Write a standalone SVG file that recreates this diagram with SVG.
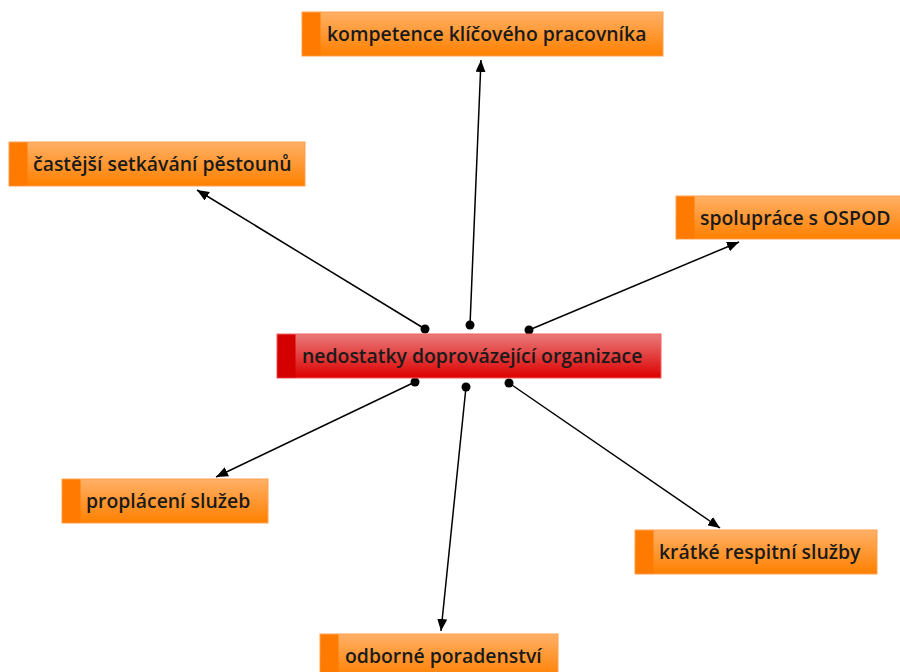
<svg xmlns="http://www.w3.org/2000/svg" width="900" height="672" viewBox="0 0 900 672">
<defs>
<linearGradient id="og" x1="0" y1="0" x2="0" y2="1">
<stop offset="0" stop-color="#ffb066"/>
<stop offset="1" stop-color="#ff8000"/>
</linearGradient>
<linearGradient id="rg" x1="0" y1="0" x2="0" y2="1">
<stop offset="0" stop-color="#ea7a7a"/>
<stop offset="1" stop-color="#dc0000"/>
</linearGradient>
<marker id="arr" viewBox="0 0 12 10" refX="12" refY="5" markerWidth="12" markerHeight="10" markerUnits="userSpaceOnUse" orient="auto">
<path d="M0,0 L12,5 L0,10 z" fill="#000"/>
</marker>
<marker id="dot" viewBox="0 0 10 10" refX="5" refY="5" markerWidth="10" markerHeight="10" markerUnits="userSpaceOnUse">
<circle cx="5" cy="5" r="4.5" fill="#000"/>
</marker>
</defs>
<style>
.ob{fill:url(#og);stroke:#ffa050;stroke-width:1}
.os{fill:#ff7a00}
.rb{fill:url(#rg);stroke:#f06060;stroke-width:1}
.rs{fill:#d40000}
.t{font-family:"Open Sans","Liberation Sans",sans-serif;font-size:19.4px;font-weight:600;fill:#1a1a1a}
.c{stroke:#000;stroke-width:1.5;fill:none;marker-start:url(#dot);marker-end:url(#arr)}
</style>
<g id="connectors">
<line class="c" x1="470" y1="325" x2="481" y2="60"/>
<line class="c" x1="425" y1="329" x2="197" y2="190"/>
<line class="c" x1="529" y1="330" x2="739" y2="242"/>
<line class="c" x1="415" y1="382" x2="216" y2="477"/>
<line class="c" x1="466" y1="387" x2="441" y2="631"/>
<line class="c" x1="509" y1="383" x2="720" y2="528"/>
</g>
<g id="n-kompetence">
<rect class="ob" x="302" y="12" width="361" height="44"/>
<rect class="os" x="302.5" y="12.5" width="18" height="43"/>
<text class="t" x="327" y="41">kompetence klíčového pracovníka</text>
</g>
<g id="n-castejsi">
<rect class="ob" x="9" y="142" width="296" height="44"/>
<rect class="os" x="9.5" y="142.5" width="18" height="43"/>
<text class="t" x="33" y="171">častější setkávání pěstounů</text>
</g>
<g id="n-spoluprace">
<rect class="ob" x="676" y="196" width="230" height="43"/>
<rect class="os" x="676.5" y="196.5" width="18" height="42"/>
<text class="t" x="700" y="225">spolupráce s OSPOD</text>
</g>
<g id="n-center">
<rect class="rb" x="277" y="334" width="384" height="44"/>
<rect class="rs" x="277.5" y="334.5" width="18" height="43"/>
<text class="t" x="302" y="363">nedostatky doprovázející organizace</text>
</g>
<g id="n-proplaceni">
<rect class="ob" x="62" y="479" width="206" height="44"/>
<rect class="os" x="62.5" y="479.5" width="18" height="43"/>
<text class="t" x="86" y="508">proplácení služeb</text>
</g>
<g id="n-kratke">
<rect class="ob" x="635" y="530" width="242" height="44"/>
<rect class="os" x="635.5" y="530.5" width="18" height="43"/>
<text class="t" x="659" y="559">krátké respitní služby</text>
</g>
<g id="n-odborne">
<rect class="ob" x="320" y="634" width="238" height="44"/>
<rect class="os" x="320.5" y="634.5" width="18" height="43"/>
<text class="t" x="345" y="663">odborné poradenství</text>
</g>
</svg>
